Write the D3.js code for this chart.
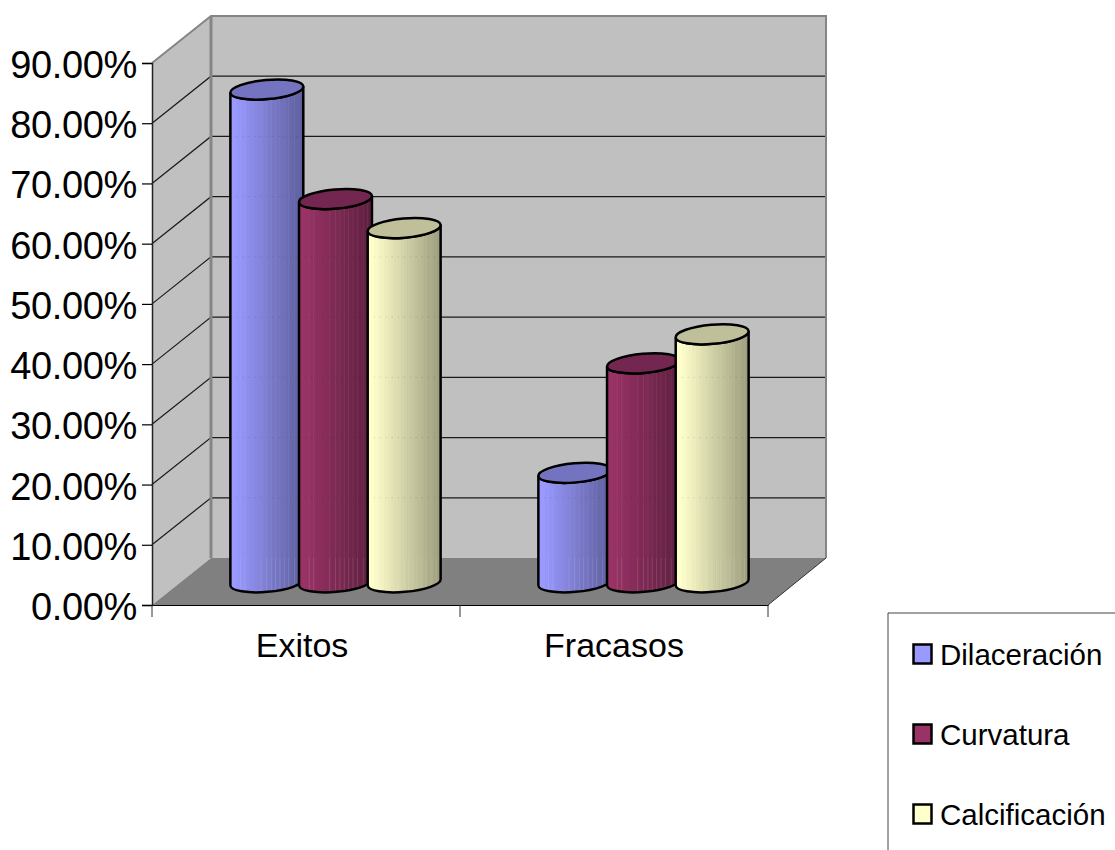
<!DOCTYPE html>
<html>
<head>
<meta charset="utf-8">
<script src="https://cdnjs.cloudflare.com/ajax/libs/d3/7.8.5/d3.min.js"></script>
<style>
html,body{margin:0;padding:0;background:#fff}
svg{display:block}
text{font-family:"Liberation Sans",Arial,sans-serif;fill:#000}
</style>
</head>
<body>
<svg id="chart" width="1115" height="850"></svg>
<script>
const categories = ["Exitos", "Fracasos"];
const seriesNames = ["Dilaceración", "Curvatura", "Calcificación"];
const dilaceracion = [81.82, 18.18];
const curvatura = [63.64, 36.36];
const calcificacion = [58.82, 41.18];
const seriesValues = [dilaceracion, curvatura, calcificacion];
const yTicks = [0, 10, 20, 30, 40, 50, 60, 70, 80, 90];
const seriesFill = ["#9999ff", "#993366", "#ffffcc"];
const seriesShade = ["#5f5f9f", "#5f2040", "#9f9f7f"];
const seriesCap = ["#7373bf", "#732650", "#bfbf99"];

const svg = d3.select("#chart");
const defs = svg.append("defs");

// Oblique projection: the back wall is the front plane shifted by this depth vector.
const depth = { x: 59, y: -47 };
const y = d3.scaleLinear().domain([0, 90]).range([605, 63]);
const x = d3.scaleBand().domain(categories).range([152, 768]);
const xInner = d3.scaleBand().domain(seriesNames).range([-103, 103]);

// Cylinder cross-section, a slightly tilted ellipse.
const ell = { a: 36.6, b: 9.6, tilt: -5 };
const ellDx = ell.a * Math.cos(ell.tilt * Math.PI / 180);
const ellDy = ell.a * Math.sin(-ell.tilt * Math.PI / 180);

// Walls and floor
const wallFill = "#c0c0c0", floorFill = "#808080", edge = "#858585";
const backX0 = x.range()[0] + depth.x, backX1 = x.range()[1] + depth.x - 1;
const poly = pts => "M" + pts.map(p => p.join(",")).join("L") + "Z";

svg.append("path").attr("fill", wallFill)
  .attr("d", poly([[backX0, y(90) + depth.y], [backX1, y(90) + depth.y], [backX1, y(0) + depth.y], [backX0, y(0) + depth.y]]));
svg.append("path").attr("fill", wallFill)
  .attr("d", poly([[152, y(90)], [backX0, y(90) + depth.y], [backX0, y(0) + depth.y], [152, y(0)]]));
svg.append("path").attr("fill", floorFill)
  .attr("d", poly([[152, y(0)], [backX0, y(0) + depth.y], [backX1, y(0) + depth.y], [768, y(0)]]));

// Gridlines across the side wall and the back wall
const grid = svg.append("g").attr("stroke", "#1a1a1a").attr("stroke-width", 1.2).attr("fill", "none");
yTicks.filter(t => t > 0 && t < 90).forEach(t => {
  grid.append("path").attr("d", `M152,${y(t)}L${backX0},${y(t) + depth.y}L${backX1},${y(t) + depth.y}`);
});

// Wall outlines
svg.append("path").attr("fill", "none").attr("stroke", edge).attr("stroke-width", 2)
  .attr("d", `M152,${y(90)}L${backX0},${y(90) + depth.y}L${backX1},${y(90) + depth.y}L${backX1},${y(0) + depth.y}`);
svg.append("line").attr("stroke", edge).attr("stroke-width", 3)
  .attr("x1", backX0).attr("x2", backX0).attr("y1", y(90) + depth.y).attr("y2", y(0) + depth.y);
svg.append("path").attr("fill", "none").attr("stroke", "#333").attr("stroke-width", 1)
  .attr("d", `M768,${y(0)}L${backX1},${y(0) + depth.y}`);

// Stepped horizontal gradient gives each cylinder its faceted shading.
const steps = 22;
seriesNames.forEach((s, i) => {
  const g = defs.append("linearGradient").attr("id", "cyl" + i);
  const c = d3.interpolateRgb(seriesFill[i], seriesShade[i]);
  d3.range(steps).forEach(k => {
    const col = c(Math.max(0, (k - 1) / (steps - 2)));
    g.append("stop").attr("offset", k / steps).attr("stop-color", col);
    g.append("stop").attr("offset", (k + 1) / steps).attr("stop-color", col);
  });
});

// Thin highlights between facets, as fractions of the cylinder width
const facetLines = [0.14, 0.2, 0.42, 0.5, 0.56, 0.62, 0.68, 0.74, 0.8, 0.88, 0.94];

const cylinders = svg.append("g");
categories.forEach((cat, j) => {
  seriesNames.forEach((name, i) => {
    const v = seriesValues[i][j];
    const cx = x(cat) + x.bandwidth() / 2 + xInner(name) + xInner.bandwidth() / 2 + depth.x / 2;
    const yBase = y(0) + depth.y / 2 + 0.8;
    const yTop = y(v) + depth.y / 2 + 0.8;
    const arc = `A${ell.a},${ell.b} ${ell.tilt}`;
    const body = `M${cx - ellDx},${yTop + ellDy}L${cx - ellDx},${yBase + ellDy}` +
      `${arc} 0 0 ${cx + ellDx},${yBase - ellDy}L${cx + ellDx},${yTop - ellDy}` +
      `${arc} 0 1 ${cx - ellDx},${yTop + ellDy}Z`;
    const cap = `M${cx - ellDx},${yTop + ellDy}${arc} 0 1 ${cx + ellDx},${yTop - ellDy}` +
      `${arc} 0 1 ${cx - ellDx},${yTop + ellDy}Z`;
    const g = cylinders.append("g");
    const clipId = `clip${j}${i}`;
    defs.append("clipPath").attr("id", clipId).append("path").attr("d", body);
    g.append("path").attr("d", body).attr("fill", `url(#cyl${i})`);
    const lines = g.append("g").attr("clip-path", `url(#${clipId})`);
    facetLines.forEach(f => {
      const lx = cx - ellDx + f * 2 * ellDx;
      lines.append("line").attr("x1", lx).attr("x2", lx)
        .attr("y1", yTop - ell.b * 2).attr("y2", y(0) + depth.y)
        .attr("stroke", "#fff").attr("stroke-opacity", 0.06);
      lines.append("line").attr("x1", lx).attr("x2", lx)
        .attr("y1", y(0) + depth.y).attr("y2", yBase + ell.b * 2)
        .attr("stroke", "#fff").attr("stroke-opacity", 0.13);
    });
    // Faint trace of the back-wall gridlines passing behind the cylinder
    yTicks.filter(t => t > 0 && y(t) + depth.y > yTop + ell.b * 2).forEach(t => {
      lines.append("line").attr("x1", cx - ellDx).attr("x2", cx + ellDx)
        .attr("y1", y(t) + depth.y).attr("y2", y(t) + depth.y)
        .attr("stroke", "#000").attr("stroke-opacity", 0.16).attr("stroke-dasharray", "1 5");
    });
    g.append("path").attr("d", body).attr("fill", "none").attr("stroke", "#000").attr("stroke-width", 2.5);
    g.append("path").attr("d", cap).attr("fill", seriesCap[i]).attr("stroke", "#000").attr("stroke-width", 2.5);
  });
});

// Value axis
const yAxis = svg.append("g").attr("transform", "translate(152,0)")
  .call(d3.axisLeft(y).tickValues(yTicks).tickSize(10).tickPadding(5).tickFormat(d => d.toFixed(2) + "%"));
yAxis.select(".domain").attr("stroke", "#222").attr("stroke-width", 1.5);
yAxis.selectAll(".tick line").attr("stroke", "#000").attr("stroke-width", 1.2);
yAxis.selectAll("text")
  .style("font-family", '"Liberation Sans",Arial,sans-serif').style("font-size", "38px")
  .style("letter-spacing", "-0.35px").attr("fill", "#000").attr("dy", "0.38em");

// Category axis: ticks sit at band edges, labels in band centres
const xAxis = svg.append("g").attr("transform", `translate(0,${y(0)})`)
  .call(d3.axisBottom(x).tickSize(0).tickPadding(28));
xAxis.select(".domain").attr("stroke", "#000").attr("stroke-width", 1.2);
xAxis.selectAll("text")
  .style("font-family", '"Liberation Sans",Arial,sans-serif').style("font-size", "34px").attr("fill", "#000")
  .attr("dx", (d, i) => i === 0 ? -4 : 0);
xAxis.selectAll(".bandEdge").data([...categories.map(c => x(c)), x.range()[1]]).enter().append("line")
  .attr("class", "bandEdge").attr("x1", d => d).attr("x2", d => d).attr("y1", 0).attr("y2", 12)
  .attr("stroke", "#333").attr("stroke-width", 1);

// Legend, running off the right and bottom of the canvas
const legend = svg.append("g").attr("transform", "translate(888,613)");
legend.append("path").attr("d", "M0,237V0H227").attr("fill", "none").attr("stroke", "#444").attr("stroke-width", 1);
const legendRow = d3.scaleBand().domain(seriesNames).range([0, 240]);
seriesNames.forEach((name, i) => {
  const cy = legendRow(name) + 41;
  const row = legend.append("g").attr("transform", `translate(0,${cy})`);
  row.append("rect").attr("x", 25.5).attr("y", -9.5).attr("width", 18).attr("height", 19)
    .attr("fill", seriesFill[i]).attr("stroke", "#000").attr("stroke-width", 2.5);
  row.append("text").attr("x", 52).attr("y", 0).attr("dy", "0.36em").style("font-size", "29.5px").text(name);
});
</script>
</body>
</html>
